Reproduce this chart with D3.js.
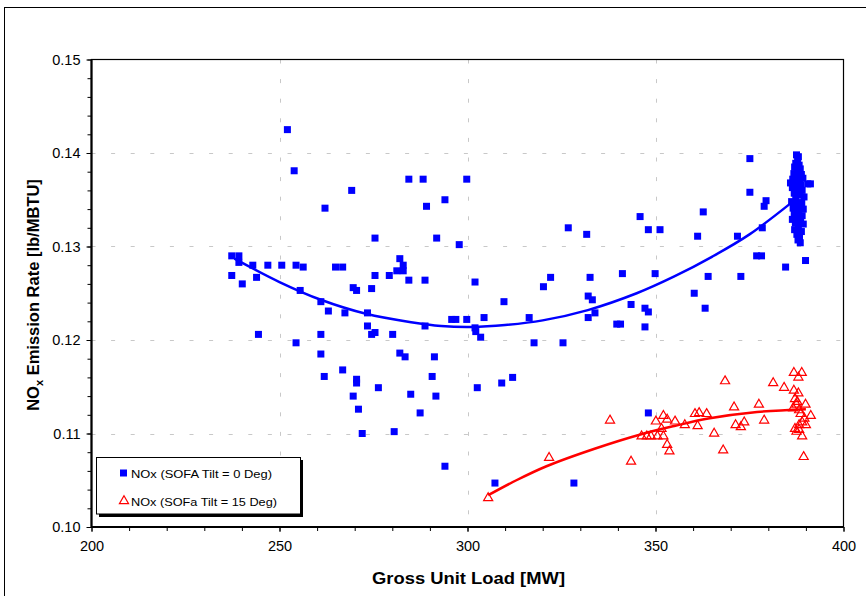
<!DOCTYPE html>
<html><head><meta charset="utf-8">
<script src="https://cdn.jsdelivr.net/npm/d3@7"></script>
<style>body{margin:0;background:#fff}svg{display:block;font-family:Arial,"Liberation Sans",sans-serif}</style>
</head><body><svg id="c" width="866" height="596"></svg>
<script>
const xTicks = [200, 250, 300, 350, 400];
const yTicks = [0.10, 0.11, 0.12, 0.13, 0.14, 0.15];
const seriesNames = ["NOx (SOFA Tilt = 0 Deg)", "NOx (SOFa Tilt = 15 Deg)"];

const blueLoad = [252.1,253.9,284.4,288.2,269.2,262.1,289.1,275.4,291.8,299.8,294.0,297.8,
237.3,239.2,239.2,237.3,240.1,242.9,243.9,246.9,250.6,254.4,256.3,255.5,264.9,266.8,269.6,270.5,274.5,275.4,279.2,282.0,282.9,281.2,282.9,284.4,288.7,
261.0,263.0,267.4,273.4,273.4,274.5,275.4,280.1,288.7,244.4,254.4,261.0,261.0,266.8,261.9,270.5,270.5,276.3,269.6,271.0,272.0,280.5,282.0,283.4,284.9,287.4,291.2,290.6,291.6,
302.0,322.1,320.2,332.6,341.2,309.7,332.1,333.2,343.5,333.9,332.1,347.2,348.1,295.8,296.9,299.8,304.4,316.4,339.7,340.7,347.2,
326.8,331.7,345.9,348.1,351.2,
302.0,302.2,303.5,317.7,325.4,
302.6,309.1,312.0,294.0,307.3,328.3,348.1,
375.1,375.1,379.4,378.9,362.7,361.2,371.8,378.4,376.9,378.2,384.6,389.9,349.9,364.0,372.7,360.3,363.2,
387.5,388.0,387.8,387.3,388.2,387.0,388.5,387.6,386.8,388.8,387.9,386.5,388.3,389.2,385.9,387.2,388.7,390.5,391.2,386.4,387.8,389.0,386.9,388.4,389.5,387.3,386.2,388.9,387.7,386.6,389.3,388.1,386.9,389.0,387.5,386.4,388.6,387.2,389.3,388.0,387.0,388.8,387.6,388.3,387.9,388.5];
const blueNOx = [0.1425,0.1381,0.1372,0.1372,0.1360,0.1341,0.1343,0.1309,0.1309,0.1372,0.1350,0.1302,
0.1290,0.1290,0.1283,0.1269,0.1260,0.1280,0.1267,0.1280,0.1280,0.1280,0.1278,0.1253,0.1278,0.1278,0.1256,0.1253,0.1255,0.1269,0.1269,0.1287,0.1280,0.1274,0.1274,0.1264,0.1264,
0.1241,0.1231,0.1229,0.1229,0.1215,0.1206,0.1208,0.1206,0.1215,0.1206,0.1197,0.1206,0.1185,0.1168,0.1161,0.1158,0.1154,0.1149,0.1140,0.1126,0.1100,0.1102,0.1186,0.1182,0.1142,0.1122,0.1182,0.1161,0.1140,
0.1262,0.1267,0.1257,0.1267,0.1271,0.1241,0.1247,0.1243,0.1238,0.1229,0.1224,0.1234,0.1230,0.1222,0.1222,0.1222,0.1224,0.1224,0.1217,0.1217,0.1214,
0.1320,0.1313,0.1332,0.1318,0.1318,
0.1213,0.1209,0.1203,0.1197,0.1197,
0.1149,0.1154,0.1160,0.1065,0.1047,0.1047,0.1122,
0.1394,0.1358,0.1349,0.1343,0.1337,0.1311,0.1311,0.1320,0.1290,0.1290,0.1278,0.1285,0.1271,0.1268,0.1268,0.1250,0.1234,
0.1398,0.1396,0.1392,0.1389,0.1387,0.1385,0.1383,0.1381,0.1378,0.1377,0.1375,0.1372,0.1371,0.1373,0.1368,0.1367,0.1366,0.1367,0.1367,0.1363,0.1361,0.1360,0.1357,0.1355,0.1353,0.1351,0.1348,0.1347,0.1344,0.1341,0.1340,0.1338,0.1335,0.1333,0.1331,0.1329,0.1327,0.1325,0.1324,0.1321,0.1318,0.1316,0.1313,0.1310,0.1307,0.1304];

const redLoad = [305.5,321.7,337.9,343.5,346.3,347.7,348.8,350.1,351.6,352.1,353.1,355.2,350.5,352.1,353.1,353.7,357.8,360.5,361.6,361.2,363.6,365.6,368.0,368.5,370.9,371.3,372.7,373.6,377.5,378.9,381.3,384.2,386.8,388.9,388.0,386.8,388.0,387.1,387.7,387.5,389.9,386.6,388.2,388.6,391.3,389.6,389.0,388.2,390.0,387.1,388.2,387.5,389.0,389.4];
const redNOx = [0.1031,0.1074,0.1114,0.1070,0.1097,0.1097,0.1097,0.1113,0.1105,0.1119,0.1115,0.1113,0.1097,0.1097,0.1088,0.1081,0.1109,0.1121,0.1122,0.1108,0.1121,0.1100,0.1082,0.1156,0.1128,0.1109,0.1107,0.1112,0.1131,0.1114,0.1154,0.1149,0.1165,0.1165,0.1160,0.1146,0.1143,0.1137,0.1134,0.1131,0.1131,0.1127,0.1125,0.1121,0.1119,0.1116,0.1112,0.1109,0.1109,0.1105,0.1104,0.1102,0.1097,0.1075];

// trend lines
const blueTrendLoad = [238,250,261,273,285,293,301,310,320,332,345,355,365,375,386.5];
const blueTrendNOx = [0.1287,0.1262,0.1243,0.1228,0.1219,0.1215,0.1214,0.1216,0.1221,0.1232,0.1250,0.1268,0.1289,0.1313,0.1348];
const redTrendLoad = [305.5,313,321,334,346,355,364,377,390];
const redTrendNOx = [0.1034,0.1050,0.1065,0.1084,0.1099,0.1108,0.1116,0.1123,0.1126];

const svg = d3.select("#c");
const x = d3.scaleLinear().domain([200, 400]).range([91.5, 843.5]);
const y = d3.scaleLinear().domain([0.10, 0.15]).range([527, 59.5]);

// outer frame
svg.append("rect").attr("x", 4.5).attr("y", 7.5).attr("width", 870).attr("height", 600)
  .attr("fill", "none").attr("stroke", "#000").attr("stroke-width", 1);

// grid
const grid = svg.append("g").attr("stroke", "#c8c8c8").attr("stroke-width", 1).attr("stroke-dasharray", "4,15.6");
yTicks.slice(1, -1).forEach(v => grid.append("line").attr("x1", x(200)).attr("x2", x(400)).attr("y1", Math.round(y(v)) + 0.5).attr("y2", Math.round(y(v)) + 0.5));
xTicks.slice(1, -1).forEach(v => grid.append("line").attr("y1", y(0.15)).attr("y2", y(0.10)).attr("x1", Math.round(x(v)) + 0.5).attr("x2", Math.round(x(v)) + 0.5));

// axes
const minorX = d3.range(200, 401, 10);
const minorY = d3.range(0, 26).map(i => 0.10 + i * 0.002);
const gx = svg.append("g").attr("transform", `translate(0,${y(0.10)})`)
  .call(d3.axisBottom(x).tickValues(minorX).tickSize(4).tickFormat(""));
const gx2 = svg.append("g").attr("transform", `translate(0,${y(0.10)})`)
  .call(d3.axisBottom(x).tickValues(xTicks).tickSize(5).tickPadding(9).tickFormat(d3.format("d")));
const gy = svg.append("g").attr("transform", `translate(${x(200)},0)`)
  .call(d3.axisLeft(y).tickValues(minorY).tickSize(4).tickFormat(""));
const gy2 = svg.append("g").attr("transform", `translate(${x(200)},0)`)
  .call(d3.axisLeft(y).tickValues(yTicks).tickSize(5).tickPadding(6).tickFormat(d3.format(".2f")));
[gx, gx2, gy, gy2].forEach(g => {
  g.select(".domain").remove();
  g.selectAll(".tick line").attr("stroke", "#000").attr("stroke-width", 1);
  g.selectAll("text").attr("font-size", 14.5).attr("fill", "#000").attr("font-family", "Arial, 'Liberation Sans', sans-serif");
});

// plot border
svg.append("rect").attr("x", x(200)).attr("y", y(0.15)).attr("width", x(400) - x(200)).attr("height", y(0.10) - y(0.15))
  .attr("fill", "none").attr("stroke", "#000").attr("stroke-width", 1.2);
svg.append("path").attr("d", `M${x(200)},${y(0.15)}V${y(0.10)}H${x(400)}`).attr("fill", "none").attr("stroke", "#000").attr("stroke-width", 2.2);

// blue points
svg.append("g").selectAll("rect").data(blueLoad.map((d, i) => [d, blueNOx[i]])).join("rect")
  .attr("x", d => x(d[0]) - 3.5).attr("y", d => y(d[1]) - 3.5).attr("width", 7).attr("height", 7).attr("fill", "#0000ff");

// red points
const tri = d3.symbol().type(d3.symbolTriangle).size(36);
svg.append("g").selectAll("path").data(redLoad.map((d, i) => [d, redNOx[i]])).join("path")
  .attr("d", tri).attr("transform", d => `translate(${x(d[0])},${y(d[1])})`)
  .attr("fill", "none").attr("stroke", "#ff0000").attr("stroke-width", 1.2);

// trend lines
const line = d3.line().x(d => x(d[0])).y(d => y(d[1])).curve(d3.curveCatmullRom);
svg.append("path").datum(blueTrendLoad.map((d, i) => [d, blueTrendNOx[i]])).attr("d", line)
  .attr("fill", "none").attr("stroke", "#0000ff").attr("stroke-width", 2.5);
svg.append("path").datum(redTrendLoad.map((d, i) => [d, redTrendNOx[i]])).attr("d", line)
  .attr("fill", "none").attr("stroke", "#ff0000").attr("stroke-width", 2.5);

// axis titles
svg.append("text").attr("x", (x(200) + x(400)) / 2 + 1).attr("y", 584).attr("text-anchor", "middle")
  .attr("font-size", 17).attr("font-weight", "bold").attr("textLength", 193).attr("lengthAdjust", "spacingAndGlyphs")
  .text("Gross Unit Load [MW]");
const yt = svg.append("text").attr("transform", "translate(39,295) rotate(-90)").attr("text-anchor", "middle")
  .attr("font-size", 16.5).attr("font-weight", "bold");
yt.append("tspan").text("NO");
yt.append("tspan").attr("font-size", 11).attr("dy", 4).text("x");
yt.append("tspan").attr("dy", -4).text(" Emission Rate [lb/MBTU]");

// legend
const lg = svg.append("g");
lg.append("rect").attr("x", 99).attr("y", 460).attr("width", 204).attr("height", 57).attr("fill", "#000");
lg.append("rect").attr("x", 96.5).attr("y", 457.5).attr("width", 204).attr("height", 56.5).attr("fill", "#fff").attr("stroke", "#000").attr("stroke-width", 1);
lg.append("rect").attr("x", 120).attr("y", 469.5).attr("width", 7).attr("height", 7).attr("fill", "#0000ff");
lg.append("path").attr("d", tri).attr("transform", "translate(124,501)").attr("fill", "none").attr("stroke", "#ff0000").attr("stroke-width", 1.2);
lg.append("text").attr("x", 131).attr("y", 477.5).attr("font-size", 11.5).attr("textLength", 141).attr("lengthAdjust", "spacingAndGlyphs").text(seriesNames[0]);
lg.append("text").attr("x", 131).attr("y", 505.5).attr("font-size", 11.5).attr("textLength", 146).attr("lengthAdjust", "spacingAndGlyphs").text(seriesNames[1]);
</script></body></html>
